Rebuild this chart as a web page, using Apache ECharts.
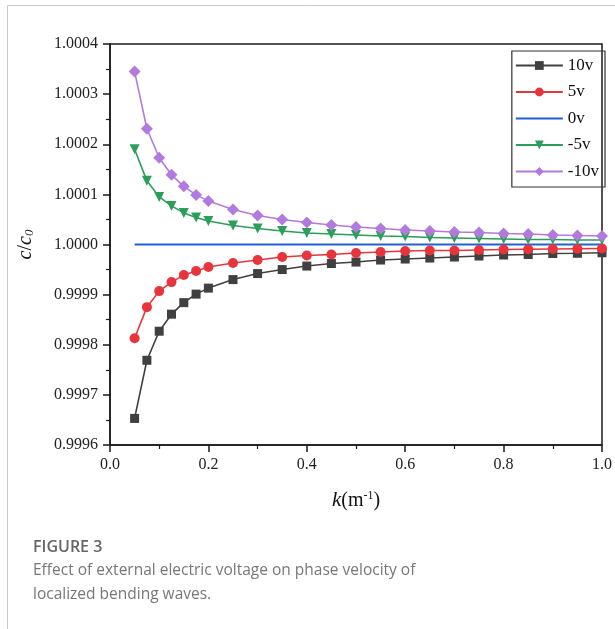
<!DOCTYPE html>
<html>
<head>
<meta charset="utf-8">
<script src="https://cdn.jsdelivr.net/npm/echarts@6/dist/echarts.min.js"></script>
<style>
  html, body { margin: 0; padding: 0; background: #fff; }
  #chart { width: 615px; height: 629px; }
</style>
</head>
<body>
<div id="chart"></div>
<script>
// wave number k (m^-1)
var kValues = [0.05, 0.075, 0.1, 0.125, 0.15, 0.175, 0.2, 0.25, 0.3, 0.35, 0.4, 0.45,
               0.5, 0.55, 0.6, 0.65, 0.7, 0.75, 0.8, 0.85, 0.9, 0.95, 1.0];

// c/c0 for each voltage
var v10 = [0.999653, 0.999769, 0.999827, 0.999861, 0.999884, 0.999901, 0.999913, 0.999930,
           0.999942, 0.999950, 0.999957, 0.999962, 0.999965, 0.999969, 0.999971, 0.999973,
           0.999975, 0.999977, 0.999979, 0.999980, 0.999982, 0.9999825, 0.9999835];
var v5 = [0.999813, 0.999875, 0.999907, 0.999925, 0.999939, 0.999947, 0.999955, 0.999963,
          0.999969, 0.999975, 0.999978, 0.999980, 0.999983, 0.999985, 0.999987, 0.999988,
          0.999988, 0.999989, 0.999990, 0.9999905, 0.999991, 0.9999915, 0.999992];
var v0 = [1, 1, 1, 1, 1, 1, 1, 1, 1, 1, 1, 1, 1, 1, 1, 1, 1, 1, 1, 1, 1, 1, 1];
var vm5 = [1.000190, 1.000127, 1.000095, 1.000077, 1.000063, 1.000054, 1.000047, 1.000038,
           1.000032, 1.000027, 1.000023, 1.000021, 1.000019, 1.000017, 1.000016, 1.000014,
           1.000013, 1.000012, 1.000011, 1.000010, 1.000010, 1.000009, 1.000009];
var vm10 = [1.000345, 1.000231, 1.000173, 1.000139, 1.000116, 1.000099, 1.000087, 1.000070,
            1.000058, 1.000050, 1.000044, 1.000039, 1.000035, 1.000032, 1.000029, 1.000027,
            1.000025, 1.000024, 1.000022, 1.000021, 1.000019, 1.000018, 1.000017];

var yTicks = [0.9996, 0.9997, 0.9998, 0.9999, 1.0000, 1.0001, 1.0002, 1.0003, 1.0004];
var xTicks = [0.0, 0.2, 0.4, 0.6, 0.8, 1.0];

function pairs(ys) {
  return kValues.map(function (k, i) { return [k, ys[i]]; });
}

var serif = 'Liberation Serif';
var myChart = echarts.init(document.getElementById('chart'));

var option = {
  backgroundColor: '#fff',
  animation: false,
  grid: {
    left: 110, right: 11, top: 44, bottom: 184,
    show: true, borderColor: '#1a1a1a', borderWidth: 1.5
  },
  legend: {
    orient: 'vertical',
    right: 10, top: 51,
    padding: [6, 6, 7, 3],
    itemWidth: 47, itemHeight: 11, itemGap: 9.5,
    borderColor: '#333', borderWidth: 1.2,
    textStyle: { fontFamily: serif, fontSize: 17, color: '#111', lineHeight: 16 },
    data: ['10v', '5v', { name: '0v', itemStyle: { opacity: 0 } }, '-5v', '-10v']
  },
  xAxis: {
    type: 'value',
    min: xTicks[0], max: xTicks[xTicks.length - 1], interval: 0.2,
    name: '{i|k}{n|(m}{s|-1}{n|)}',
    nameLocation: 'middle', nameGap: 45,
    nameTextStyle: {
      rich: {
        i: { fontFamily: serif, fontSize: 21, fontStyle: 'italic', color: '#111' },
        n: { fontFamily: serif, fontSize: 20, color: '#111' },
        s: { fontFamily: serif, fontSize: 12, color: '#111', verticalAlign: 'top', padding: [0, 0, 8, 0] }
      }
    },
    axisLine: { lineStyle: { color: '#1a1a1a', width: 1.5 } },
    axisTick: { inside: false, length: 7, lineStyle: { color: '#1a1a1a', width: 1.5 } },
    minorTick: { show: true, splitNumber: 2, length: 4, lineStyle: { color: '#1a1a1a', width: 1.2 } },
    splitLine: { show: false },
    axisLabel: {
      margin: 12, fontFamily: serif, fontSize: 16, color: '#222',
      formatter: function (v) { return v.toFixed(1); }
    }
  },
  yAxis: {
    type: 'value',
    min: yTicks[0], max: yTicks[yTicks.length - 1], interval: 0.0001,
    name: '{i|c}{n|/}{i|c}{s|0}',
    nameLocation: 'middle', nameGap: 74, nameRotate: 90,
    nameTextStyle: {
      rich: {
        i: { fontFamily: serif, fontSize: 20, fontStyle: 'italic', color: '#111' },
        n: { fontFamily: serif, fontSize: 20, color: '#111' },
        s: { fontFamily: serif, fontSize: 13, fontStyle: 'italic', color: '#111', verticalAlign: 'bottom', padding: [6, 0, 0, 0] }
      }
    },
    axisLine: { show: true, lineStyle: { color: '#1a1a1a', width: 1.5 } },
    axisTick: { show: true, inside: false, length: 7, lineStyle: { color: '#1a1a1a', width: 1.5 } },
    minorTick: { show: true, splitNumber: 2, length: 4, lineStyle: { color: '#1a1a1a', width: 1.2 } },
    splitLine: { show: false },
    axisLabel: {
      margin: 12, fontFamily: serif, fontSize: 16, color: '#222',
      formatter: function (v) { return v.toFixed(4); }
    }
  },
  series: [
    { name: '10v', type: 'line', data: pairs(v10), symbol: 'rect', symbolSize: 9,
      itemStyle: { color: '#404040' }, lineStyle: { color: '#404040', width: 1.6 } },
    { name: '5v', type: 'line', data: pairs(v5), symbol: 'circle', symbolSize: 10,
      itemStyle: { color: '#e8353b' }, lineStyle: { color: '#e8353b', width: 1.6 } },
    { name: '0v', type: 'line', data: pairs(v0), symbol: 'none',
      itemStyle: { color: '#1f62d8' }, lineStyle: { color: '#1f62d8', width: 1.8 } },
    { name: '-5v', type: 'line', data: pairs(vm5), symbol: 'triangle', symbolRotate: 180, symbolSize: 10,
      itemStyle: { color: '#2b9e5a' }, lineStyle: { color: '#2b9e5a', width: 1.6 } },
    { name: '-10v', type: 'line', data: pairs(vm10), symbol: 'diamond', symbolSize: 12,
      itemStyle: { color: '#b27ade' }, lineStyle: { color: '#b27ade', width: 1.6 } }
  ],
  graphic: [
    { type: 'line', shape: { x1: 7.5, y1: 5.5, x2: 615, y2: 5.5 }, style: { stroke: '#c8c8c8', lineWidth: 1 } },
    { type: 'line', shape: { x1: 7.5, y1: 5.5, x2: 7.5, y2: 629 }, style: { stroke: '#c8c8c8', lineWidth: 1 } },
    { type: 'text', left: 33, top: 539,
      style: { text: 'FIGURE 3', fill: '#666', font: '600 16px "Open Sans"' } },
    { type: 'text', left: 33, top: 563,
      style: { text: 'Effect of external electric voltage on phase velocity of', fill: '#777', font: '15.5px "Open Sans"' } },
    { type: 'text', left: 33, top: 587,
      style: { text: 'localized bending waves.', fill: '#777', font: '15.5px "Open Sans"' } }
  ]
};

myChart.setOption(option);
</script>
</body>
</html>
